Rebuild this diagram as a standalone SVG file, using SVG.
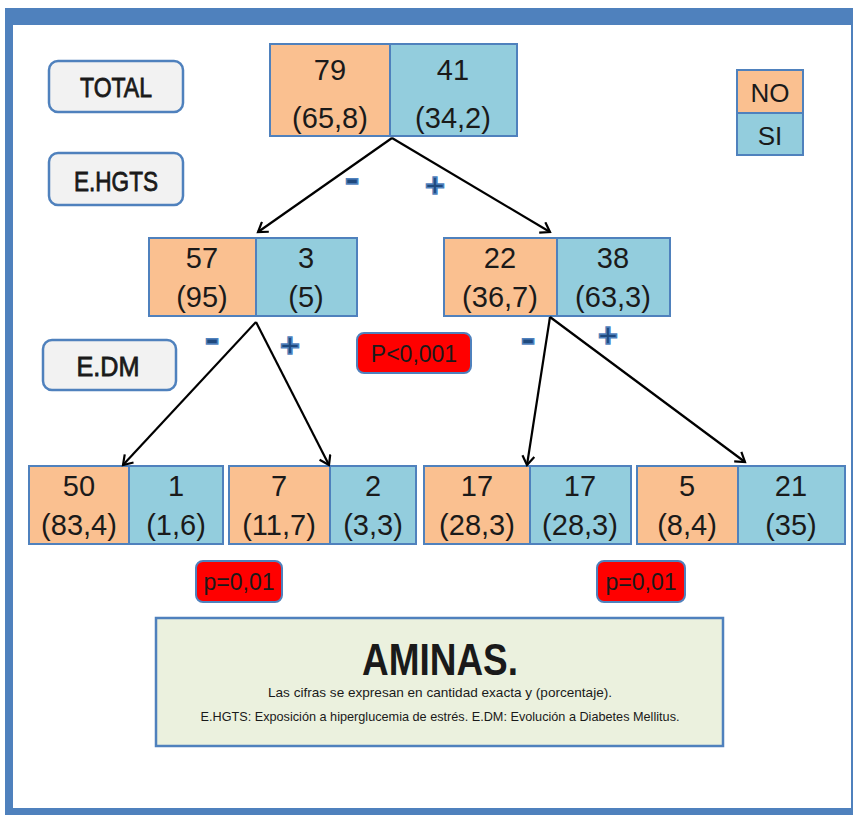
<svg xmlns="http://www.w3.org/2000/svg" width="853" height="815" viewBox="0 0 853 815">
<defs>
<style>
.t{font-family:"Liberation Sans",Arial,sans-serif;fill:#1a1a1a;text-anchor:middle}
.no{fill:#fac090;stroke:#4f81bd;stroke-width:2}
.si{fill:#93cddd;stroke:#4f81bd;stroke-width:2}
.lab{fill:#f2f2f2;stroke:#4f81bd;stroke-width:2.5}
.red{fill:#ff0000;stroke:#4f81bd;stroke-width:2}
.num{font-size:29px}
.labt{font-size:28px;stroke:#1a1a1a;stroke-width:0.8}
.conn{stroke:#000;stroke-width:2.2;fill:none}
.sign{font-family:"Liberation Sans",Arial,sans-serif;font-weight:bold;fill:#1f497d;stroke:#4f81bd;stroke-width:1.5;text-anchor:middle}
.minus{font-size:44px}
.plus{font-size:34px}
</style>
<marker id="ah" markerWidth="14" markerHeight="14" refX="11" refY="7" orient="auto" markerUnits="userSpaceOnUse">
<path d="M2,1 L11,7 L2,13" fill="none" stroke="#000" stroke-width="2.2"/>
</marker>
</defs>
<rect x="5" y="8" width="848" height="807" fill="#4f81bd"/>
<rect x="13" y="25" width="838" height="783" fill="#ffffff"/>

<g id="label-total"><rect class="lab" x="49" y="61" width="134" height="51" rx="9"/><text class="t labt" x="116" y="97" textLength="72" lengthAdjust="spacingAndGlyphs">TOTAL</text></g>
<g id="label-ehgts"><rect class="lab" x="49" y="153" width="134" height="52" rx="9"/><text class="t labt" x="116" y="191" textLength="84" lengthAdjust="spacingAndGlyphs">E.HGTS</text></g>
<g id="label-edm"><rect class="lab" x="43" y="340" width="133" height="50" rx="9"/><text class="t labt" x="108" y="376" textLength="63" lengthAdjust="spacingAndGlyphs">E.DM</text></g>

<g id="legend">
<rect class="no" x="737" y="70" width="66" height="43"/><text class="t" x="770" y="102" font-size="26">NO</text>
<rect class="si" x="737" y="113" width="66" height="42"/><text class="t" x="770" y="145" font-size="26">SI</text>
</g>

<g id="node-total">
<rect class="no" x="270" y="44" width="120" height="92"/><rect class="si" x="390" y="44" width="127" height="92"/>
<text class="t num" x="330" y="80">79</text><text class="t num" x="330" y="128">(65,8)</text>
<text class="t num" x="453" y="80">41</text><text class="t num" x="453" y="128">(34,2)</text>
</g>

<g id="node-hgts-neg">
<rect class="no" x="149" y="238" width="107" height="78"/><rect class="si" x="256" y="238" width="101" height="78"/>
<text class="t num" x="202" y="268">57</text><text class="t num" x="202" y="307">(95)</text>
<text class="t num" x="306" y="268">3</text><text class="t num" x="306" y="307">(5)</text>
</g>
<g id="node-hgts-pos">
<rect class="no" x="444" y="238" width="113" height="78"/><rect class="si" x="557" y="238" width="113" height="78"/>
<text class="t num" x="500" y="268">22</text><text class="t num" x="500" y="307">(36,7)</text>
<text class="t num" x="613" y="268">38</text><text class="t num" x="613" y="307">(63,3)</text>
</g>

<g id="node-a">
<rect class="no" x="29" y="466" width="100" height="78"/><rect class="si" x="129" y="466" width="94" height="78"/>
<text class="t num" x="79" y="496">50</text><text class="t num" x="79" y="535">(83,4)</text>
<text class="t num" x="176" y="496">1</text><text class="t num" x="176" y="535">(1,6)</text>
</g>
<g id="node-b">
<rect class="no" x="229" y="466" width="101" height="78"/><rect class="si" x="330" y="466" width="86" height="78"/>
<text class="t num" x="279" y="496">7</text><text class="t num" x="279" y="535">(11,7)</text>
<text class="t num" x="373" y="496">2</text><text class="t num" x="373" y="535">(3,3)</text>
</g>
<g id="node-c">
<rect class="no" x="424" y="466" width="106" height="78"/><rect class="si" x="530" y="466" width="101" height="78"/>
<text class="t num" x="477" y="496">17</text><text class="t num" x="477" y="535">(28,3)</text>
<text class="t num" x="580" y="496">17</text><text class="t num" x="580" y="535">(28,3)</text>
</g>
<g id="node-d">
<rect class="no" x="637" y="466" width="101" height="78"/><rect class="si" x="738" y="466" width="107" height="78"/>
<text class="t num" x="687" y="496">5</text><text class="t num" x="687" y="535">(8,4)</text>
<text class="t num" x="791" y="496">21</text><text class="t num" x="791" y="535">(35)</text>
</g>

<g id="p-main"><rect class="red" x="357" y="333" width="114" height="40" rx="7"/><text class="t" x="414" y="362" font-size="23">P&lt;0,001</text></g>
<g id="p-left"><rect class="red" x="196" y="561" width="86" height="41" rx="7"/><text class="t" x="239" y="590" font-size="23">p=0,01</text></g>
<g id="p-right"><rect class="red" x="597" y="561" width="88" height="41" rx="7"/><text class="t" x="641" y="590" font-size="23">p=0,01</text></g>

<g id="connectors">
<line class="conn" x1="392" y1="138" x2="258" y2="232" marker-end="url(#ah)"/>
<line class="conn" x1="392" y1="138" x2="550" y2="232" marker-end="url(#ah)"/>
<line class="conn" x1="256" y1="322" x2="123" y2="465" marker-end="url(#ah)"/>
<line class="conn" x1="256" y1="322" x2="329" y2="465" marker-end="url(#ah)"/>
<line class="conn" x1="550" y1="317" x2="527" y2="465" marker-end="url(#ah)"/>
<line class="conn" x1="550" y1="317" x2="745" y2="462" marker-end="url(#ah)"/>
<text class="sign minus" x="352" y="193">-</text>
<text class="sign plus" x="435" y="197">+</text>
<text class="sign minus" x="212" y="353">-</text>
<text class="sign plus" x="290" y="357">+</text>
<text class="sign minus" x="528" y="353">-</text>
<text class="sign plus" x="608" y="347">+</text>
</g>

<g id="caption">
<rect x="156" y="618" width="567" height="128" fill="#ebf1de" stroke="#4f81bd" stroke-width="2.5"/>
<text class="t" x="440" y="675" font-size="44" font-weight="bold" fill="#000" textLength="156" lengthAdjust="spacingAndGlyphs">AMINAS.</text>
<text class="t" x="440" y="697" font-size="13" textLength="344" lengthAdjust="spacingAndGlyphs">Las cifras se expresan en cantidad exacta y (porcentaje).</text>
<text class="t" x="440" y="721" font-size="13" textLength="479" lengthAdjust="spacingAndGlyphs">E.HGTS: Exposición a hiperglucemia de estrés. E.DM: Evolución a Diabetes Mellitus.</text>
</g>
</svg>
